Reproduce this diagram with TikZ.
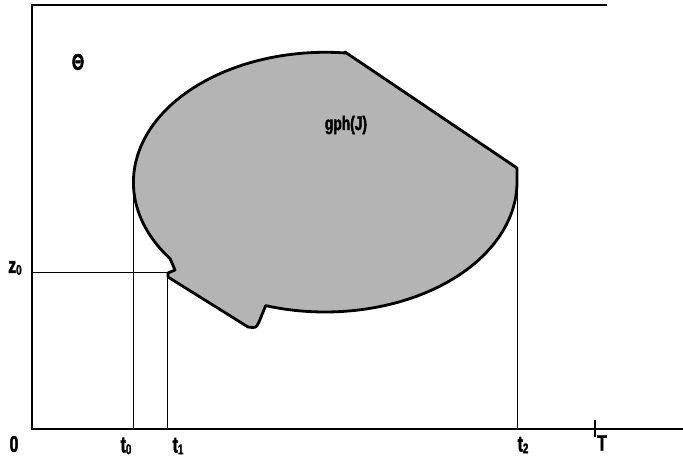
\documentclass[tikz,border=0pt]{standalone}
\usepackage{fontspec}
\newfontfamily\lblfont[FakeStretch=0.7, FakeBold=2]{Liberation Sans}
\usetikzlibrary{positioning}
\definecolor{blobG}{HTML}{B4B4B4}
\newcommand{\sub}[1]{\raisebox{-0.15ex}{\fontsize{10}{10}\selectfont #1}}

\begin{document}
\begin{tikzpicture}[x=0.025cm, y=0.025cm,
   lbl/.style={font=\lblfont\bfseries\fontsize{16}{18}\selectfont, inner sep=0pt},
   frame/.style={line width=1.4pt},
   guide/.style={line width=0.5pt},
   blob/.style={fill=blobG, draw=black, line width=2pt, line join=round}]
  \useasboundingbox (0,0) rectangle (683,464);
  % frame and time axis
  \coordinate (O) at (32,35);
  \coordinate (topL) at (32,459);
  \coordinate (topR) at (607,459);
  \coordinate (axR) at (683,35);
  \coordinate (Tup) at (595,44);
  \coordinate (Tdn) at (595,27);
  \draw[frame] (topR) -- (topL) -- (O) -- (axR);
  \draw[frame] (Tup) -- (Tdn);
  % guide lines
  \coordinate (t0a) at (133,35);
  \coordinate (t0b) at (133,282);
  \coordinate (t1a) at (167,35);
  \coordinate (t1b) at (167,192);
  \coordinate (t2a) at (517,35);
  \coordinate (t2b) at (517,282);
  \coordinate (z0a) at (32,192);
  \draw[guide] (t0a) -- (t0b);
  \draw[guide] (t1a) -- (t1b);
  \draw[guide] (t2a) -- (t2b);
  \draw[guide] (z0a) -- (t1b);
  % the set gph(J)
  \draw[blob] (345,412) -- (517,296) -- (517,282)
    arc[start angle=0, end angle=-108, x radius=192, y radius=130]
    -- (259,142) .. controls (256,136) .. (248,137)
    -- (168,187) -- (168,191) -- (175,194) -- (170.1,205.3)
    arc[start angle=216, end angle=84, x radius=192, y radius=130] -- cycle;
  % labels
  \node[lbl] (lO) at (14,20) {0};
  \node[lbl] (lt0) at (126,18) {t\sub{0}};
  \node[lbl] (lt1) at (178,18) {t\sub{1}};
  \node[lbl] (lt2) at (523,19) {t\sub{2}};
  \node[lbl] (lT) at (602,21) {T};
  \node[lbl] (lz0) at (15,196) {z\sub{0}};
  \node[lbl] (lTheta) at (78,402) {Θ};
  \node[lbl, font=\lblfont\bfseries\fontsize{14}{16}\selectfont] (lgph) at (346,339) {gph(J)};
\end{tikzpicture}
\end{document}
